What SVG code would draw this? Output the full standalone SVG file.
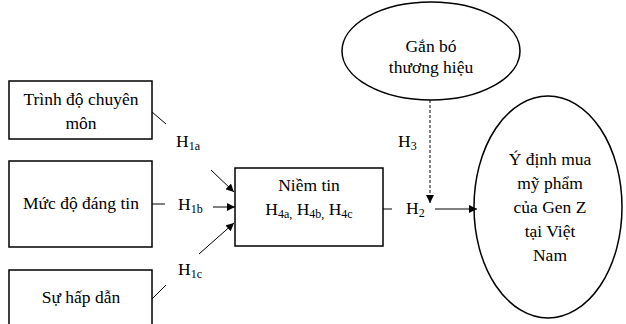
<svg xmlns="http://www.w3.org/2000/svg" width="626" height="324" viewBox="0 0 626 324" font-family="'Liberation Serif', 'DejaVu Serif', 'Times New Roman', serif">
<defs>
<marker id="ah" viewBox="0 0 10 10" refX="10" refY="5" markerWidth="8" markerHeight="8" markerUnits="userSpaceOnUse" orient="auto">
<path d="M0,0 L10,5 L0,10 z" fill="#000"/>
</marker>
<style>
text{font-family:'Liberation Serif','DejaVu Serif','Times New Roman',serif;font-size:17.5px;fill:#000}
.box{fill:#fff;stroke:#000;stroke-width:1.5}
.t{text-anchor:middle}
.sub{font-size:12px}
.c{stroke:#000;stroke-width:1;fill:none}
.d{stroke:#000;stroke-width:1;fill:none;stroke-dasharray:3,2}
</style>
</defs>
<rect width="626" height="324" fill="#fff"/>
<g id="node-trinhdo">
<rect class="box" x="9" y="81" width="143" height="58"/>
<text class="t" x="81" y="105">Trình độ chuyên</text>
<text class="t" x="81" y="129">môn</text>
</g>
<g id="node-mucdo">
<rect class="box" x="9" y="161" width="143" height="86"/>
<text class="t" x="81" y="209">Mức độ đáng tin</text>
</g>
<g id="node-suhapdan">
<rect class="box" x="9" y="270" width="143" height="60"/>
<text class="t" x="81" y="303">Sự hấp dẫn</text>
</g>
<g id="node-niemtin">
<rect class="box" x="235" y="168" width="148" height="78"/>
<text class="t" x="309" y="191">Niềm tin</text>
<text class="t" x="309" y="215">H<tspan class="sub" dy="3">4a,</tspan><tspan dy="-3"> H</tspan><tspan class="sub" dy="3">4b,</tspan><tspan dy="-3"> H</tspan><tspan class="sub" dy="3">4c</tspan></text>
</g>
<g id="node-ganbo">
<ellipse class="box" cx="431" cy="51" rx="89" ry="49"/>
<text class="t" x="431" y="52">Gắn bó</text>
<text class="t" x="431" y="73">thương hiệu</text>
</g>
<g id="node-ydinh">
<ellipse class="box" cx="548" cy="207" rx="74" ry="111"/>
<text class="t" x="550" y="165">Ý định mua</text>
<text class="t" x="550" y="189">mỹ phẩm</text>
<text class="t" x="550" y="213">của Gen Z</text>
<text class="t" x="550" y="237">tại Việt</text>
<text class="t" x="550" y="261">Nam</text>
</g>
<g id="connectors">
<line class="c" x1="152" y1="112" x2="166" y2="124"/>
<line class="c" x1="211" y1="170" x2="234" y2="192" marker-end="url(#ah)"/>
<line class="c" x1="152" y1="204" x2="165" y2="204"/>
<line class="c" x1="213" y1="207" x2="235" y2="207" marker-end="url(#ah)"/>
<line class="c" x1="152" y1="299" x2="166" y2="285"/>
<line class="c" x1="199" y1="254" x2="234" y2="223" marker-end="url(#ah)"/>
<line class="c" x1="383" y1="209" x2="392" y2="209"/>
<line class="c" x1="435" y1="209" x2="477" y2="209" marker-end="url(#ah)"/>
<line class="d" x1="430" y1="100" x2="430" y2="203" marker-end="url(#ah)"/>
<text x="176" y="147">H<tspan class="sub" dy="3">1a</tspan></text>
<text x="178" y="210">H<tspan class="sub" dy="3">1b</tspan></text>
<text x="178" y="275">H<tspan class="sub" dy="3">1c</tspan></text>
<text x="398" y="147">H<tspan class="sub" dy="3">3</tspan></text>
<text x="406" y="214">H<tspan class="sub" dy="3">2</tspan></text>
</g>
</svg>
